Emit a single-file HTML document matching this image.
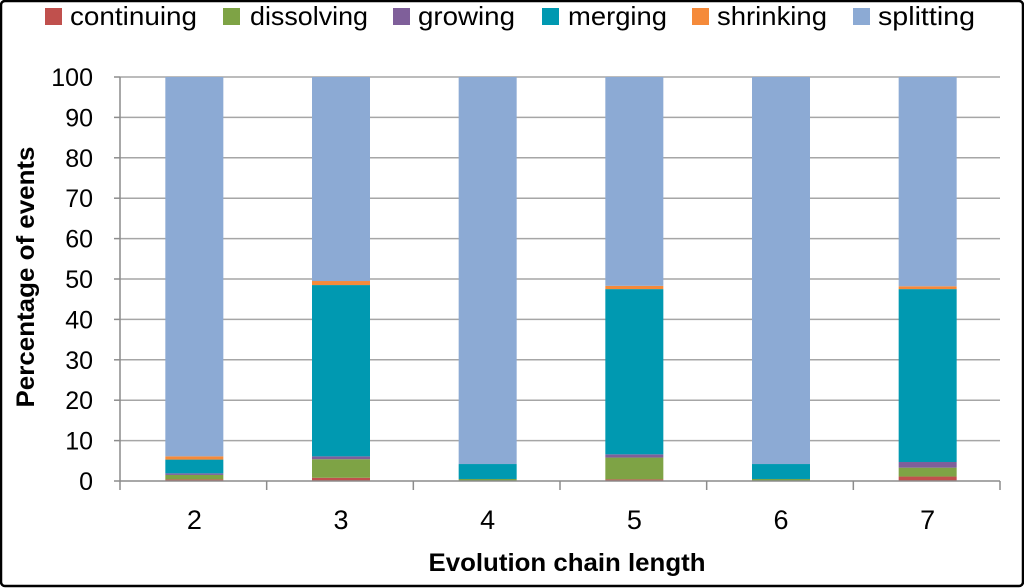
<!DOCTYPE html>
<html><head><meta charset="utf-8"><style>
html,body{margin:0;padding:0;background:#fff}
svg{display:block;font-family:"Liberation Sans",Arial,sans-serif}
</style></head><body>
<svg id="chart" width="1024" height="588">
<rect x="1" y="1" width="1022" height="585" rx="4" fill="#fff" stroke="#000" stroke-width="2.5"/>
<g id="grid"></g><g id="bars"></g><g id="axes"></g><g id="legend"></g>
<text x="34" y="277" transform="rotate(-90 34 277)" text-anchor="middle" font-size="25" font-weight="bold" fill="#000" textLength="261" lengthAdjust="spacingAndGlyphs">Percentage of events</text>
<text x="567" y="571" text-anchor="middle" font-size="25" font-weight="bold" fill="#000" textLength="277" lengthAdjust="spacingAndGlyphs">Evolution chain length</text>
</svg>
<script>
const categories=["2","3","4","5","6","7"];
const seriesNames=["continuing","dissolving","growing","merging","shrinking","splitting"];
const continuing=[0.4,0.8,0.1,0.4,0.1,1.1];
const dissolving=[1.1,4.6,0.4,5.4,0.4,2.2];
const growing=[0.4,0.7,0,0.8,0,1.4];
const merging=[3.4,42.4,3.7,40.9,3.7,42.8];
const shrinking=[0.8,1.0,0,0.8,0,0.7];
const splitting=[93.9,50.5,95.8,51.7,95.8,51.8];
const yTicks=[0,10,20,30,40,50,60,70,80,90,100];
const colors=["#c0504d","#7ea345","#7f5f9a","#0099b1","#f58a3a","#8caad4"];
const series=[continuing,dissolving,growing,merging,shrinking,splitting];
const NS="http://www.w3.org/2000/svg";
const X0=120,X1=1000,Y0=481,Y1=77;
const y=v=>Y0-(v/100)*(Y0-Y1);
const step=(X1-X0)/categories.length;
const xc=i=>X0+step*(i+0.5);
const BW=58;
function mk(t,a,p){const e=document.createElementNS(NS,t);for(const k in a)e.setAttribute(k,a[k]);p.appendChild(e);return e;}
const grid=document.getElementById('grid'),bars=document.getElementById('bars'),axes=document.getElementById('axes'),legend=document.getElementById('legend');
yTicks.forEach(t=>{
  if(t>0){const g=mk('line',{x1:X0,x2:X1,y1:y(t),y2:y(t),stroke:'#a6a6a6','stroke-width':1.5},grid);
  
  }
  const l=mk('text',{x:93,y:y(t)+9,'text-anchor':'end','font-size':25,fill:'#000'},axes);
  l.textContent=t;
  
  
  const tk=mk('line',{x1:X0-6,x2:X0,y1:y(t),y2:y(t),stroke:'#8c8c8c','stroke-width':1.5},axes);
  
  
});
categories.forEach((c,i)=>{
  let cum=0;
  series.forEach((s,k)=>{
    const v=s[i];
    const r=mk('rect',{x:xc(i)-BW/2+1,y:y(cum+v),width:BW,height:Math.max(0,y(cum)-y(cum+v)),fill:colors[k]},bars);
    
    
    cum+=v;
  });
  const l=mk('text',{x:xc(i)+1,y:529,'text-anchor':'middle','font-size':27,fill:'#000'},axes);
  l.textContent=c;
  
  
});
for(let i=0;i<=categories.length;i++){
  const tk=mk('line',{x1:X0+step*i,x2:X0+step*i,y1:Y0,y2:Y0+9,stroke:'#8c8c8c','stroke-width':1.5},axes);
  
  
}
const ya=mk('line',{x1:X0,x2:X0,y1:Y1,y2:Y0,stroke:'#8c8c8c','stroke-width':1.5},axes);


const xa=mk('line',{x1:X0,x2:X1,y1:Y0,y2:Y0,stroke:'#8c8c8c','stroke-width':1.5},axes);


const lx=[45,223,393,542,692,853];
const lt=[70,250,418,568,717,878];
const lw=[127,118,97,99,110,97];
seriesNames.forEach((n,k)=>{
  const g=mk('g',{},legend);
  
  
  mk('rect',{x:lx[k],y:8,width:17,height:17,fill:colors[k]},g);
  const t=mk('text',{x:lt[k],y:25,'font-size':26,fill:'#000',textLength:lw[k],lengthAdjust:'spacingAndGlyphs'},g);
  t.textContent=n;
});
</script>
</body></html>
